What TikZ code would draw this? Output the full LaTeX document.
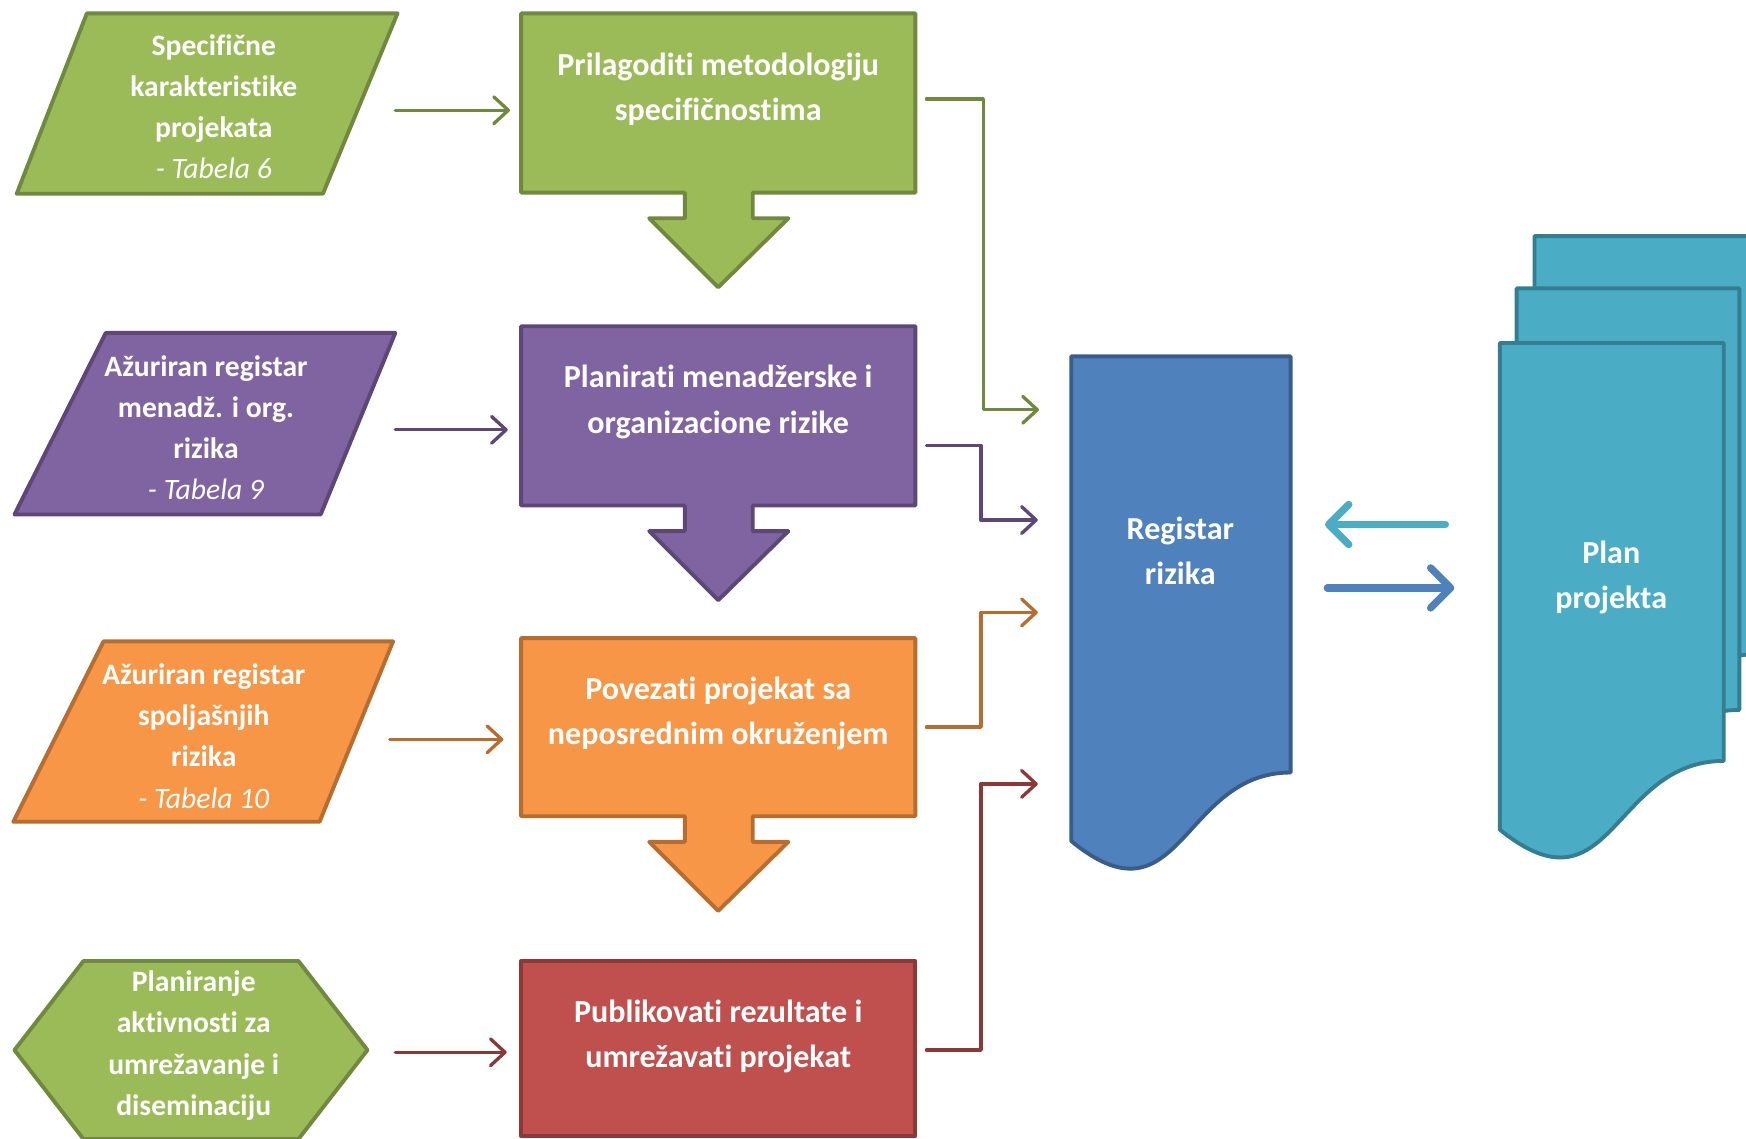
\documentclass[tikz,border=0pt]{standalone}
\usepackage{fontspec}
\setmainfont[Ligatures={NoCommon}]{Carlito}
\usetikzlibrary{arrows.meta,calc}
\definecolor{gfill}{HTML}{9BBB59}
\definecolor{gline}{HTML}{71893F}
\definecolor{pfill}{HTML}{8064A2}
\definecolor{pline}{HTML}{5C4776}
\definecolor{ofill}{HTML}{F79646}
\definecolor{oline}{HTML}{B66D31}
\definecolor{rfill}{HTML}{C0504D}
\definecolor{rline}{HTML}{8C3836}
\definecolor{bfill}{HTML}{4F81BD}
\definecolor{bline}{HTML}{385D8A}
\definecolor{afill}{HTML}{4BACC6}
\definecolor{aline}{HTML}{357D91}
\newcommand{\docshape}[5]{%
  \draw[#5] (#1,#2) -- ({#1+#3},#2) -- ({#1+#3},{#2+0.802*#4})
    .. controls ({#1+0.5*#3},{#2+0.802*#4}) and ({#1+0.5*#3},{#2+1.1075*#4}) ..
    (#1,{#2+0.934*#4}) -- cycle;}
\newcommand{\calloutbox}[5]{% x1 y1 x2 y2 style
  \draw[#5] (#1,#2) -- (#3,#2) -- (#3,#4) -- ({0.5*(#1+#3)+31},#4) -- ({0.5*(#1+#3)+31},{#4+23})
    -- ({0.5*(#1+#3)+63},{#4+23}) -- ({0.5*(#1+#3)},{#4+85}) -- ({0.5*(#1+#3)-62},{#4+23})
    -- ({0.5*(#1+#3)-30},{#4+23}) -- ({0.5*(#1+#3)-30},#4) -- (#1,#4) -- cycle;}
\begin{document}
\begin{tikzpicture}[x=1pt,y=-1pt,line join=round,
  shp/.style={line width=3.5pt},
  area/.style={inner sep=0pt,outer sep=0pt,draw=none,fill=none},
  txt/.style={text=white,align=center,inner sep=0pt,font=\bfseries\fontsize{28.8}{40.5}\selectfont},
  intxt/.style={text=white,align=center,inner sep=0pt,font=\bfseries\fontsize{26.6}{37}\selectfont},
  conn/.style={line width=3pt,line cap=round,-{Straight Barb[length=13pt,width=24pt,round]}},
  big/.style={line width=6.5pt,line cap=round,-{Straight Barb[length=18pt,width=36pt,round]}}]
\useasboundingbox (0,0) rectangle (1568,1022);
\clip (0,0) rectangle (1568,1022);

% ---------- left inputs ----------
\draw[shp,fill=gfill,draw=gline] (78,12) -- (357,12) -- (290,174) -- (15,174) -- cycle;
\node[intxt] (in1) at (192,96) {Specifične\\karakteristike\\projekata\\{\mdseries\itshape - Tabela 6}};
\draw[shp,fill=pfill,draw=pline] (95,299) -- (355,299) -- (288,462) -- (13,462) -- cycle;
\node[intxt] (in2) at (185,384) {Ažuriran registar\\menadž. i org.\\rizika\\{\mdseries\itshape - Tabela 9}};
\draw[shp,fill=ofill,draw=oline] (93,576) -- (353,576) -- (287,738) -- (12,738) -- cycle;
\node[intxt] (in3) at (183,661) {Ažuriran registar\\spoljašnjih\\rizika\\{\mdseries\itshape - Tabela 10}};
\draw[shp,fill=gfill,draw=gline] (75,863) -- (268,863) -- (330,943) -- (268,1023) -- (75,1023) -- (13,943) -- cycle;
\node[intxt] (in4) at (174,939) {Planiranje\\aktivnosti za\\umrežavanje i\\diseminaciju};

% ---------- middle process boxes ----------
\node[area,minimum width=354pt,minimum height=161pt] (b1) at (645,92.5) {};
\node[area,minimum width=354pt,minimum height=161pt] (b2) at (645,373.5) {};
\node[area,minimum width=354pt,minimum height=160pt] (b3) at (645,653) {};
\node[area,minimum width=354pt,minimum height=157pt] (b4) at (645,941.5) {};
\calloutbox{468}{12}{822}{173}{shp,fill=gfill,draw=gline}
\calloutbox{468}{293}{822}{454}{shp,fill=pfill,draw=pline}
\calloutbox{468}{573}{822}{733}{shp,fill=ofill,draw=oline}
\draw[shp,fill=rfill,draw=rline] (468,863) rectangle (822,1020);
\node[txt] (t1) at (645,80) {Prilagoditi metodologiju\\specifičnostima};
\node[txt] (t2) at (645,361) {Planirati menadžerske i\\organizacione rizike};
\node[txt] (t3) at (645,641) {Povezati projekat sa\\neposrednim okruženjem};
\node[txt] (t4) at (645,930.5) {Publikovati rezultate i\\umrežavati projekat};

% ---------- inputs -> boxes ----------
\coordinate (s1) at (355,99);
\coordinate (s2) at (355,386);
\coordinate (s3) at (350,664);
\coordinate (s4) at (355,945);
\draw[conn,gline,shorten >=10pt] (s1) -- (b1.west |- s1);
\draw[conn,pline,shorten >=12pt] (s2) -- (b2.west |- s2);
\draw[conn,oline,shorten >=16pt] (s3) -- (b3.west |- s3);
\draw[conn,rline,shorten >=13pt] (s4) -- (b4.west |- s4);

% ---------- registar rizika ----------
\docshape{962}{320}{197}{466}{shp,fill=bfill,draw=bline}
\node[area,minimum width=197pt,minimum height=460pt] (reg) at (1060.5,550) {};
\node[txt] (treg) at (1060,495) {Registar\\rizika};

% ---------- boxes -> registar ----------
\coordinate (r1) at (933,368);
\coordinate (r2) at (932,467);
\coordinate (r3) at (932,550);
\coordinate (r4) at (932,704);
\draw[conn,gline] ([shift={(10,-3.5)}]b1.east) -| (883,368) -- (r1);
\draw[conn,pline] ([shift={(10,26.5)}]b2.east) -| (881,467) -- (r2);
\draw[conn,oline] ([shift={(10,0)}]b3.east) -| (881,550) -- (r3);
\draw[conn,rline] ([shift={(10,1.5)}]b4.east) -| (881,704) -- (r4);

% ---------- plan projekta (multi document) ----------
\docshape{1378}{212}{201}{468}{shp,fill=afill,draw=aline}
\docshape{1362}{259}{200}{472}{shp,fill=afill,draw=aline}
\docshape{1347}{308}{201}{468}{shp,fill=afill,draw=aline}
\node[area,minimum width=201pt,minimum height=460pt] (plan) at (1447.5,538) {};
\node[txt] (tplan) at (1447,518.5) {Plan\\projekta};

% ---------- registar <-> plan ----------
\coordinate (c1) at (1298,471);
\coordinate (c2) at (1306,528);
\begin{scope}[shift={(2,3)}]
\draw[big,black,opacity=0.15,shorten >=31pt] (c1) -- (reg.east |- c1);
\draw[big,black,opacity=0.15,shorten <=33pt] (reg.east |- c2) -- (c2);
\end{scope}
\draw[big,afill,shorten >=31pt] (c1) -- (reg.east |- c1);
\draw[big,bfill,shorten <=33pt] (reg.east |- c2) -- (c2);
\end{tikzpicture}
\end{document}
